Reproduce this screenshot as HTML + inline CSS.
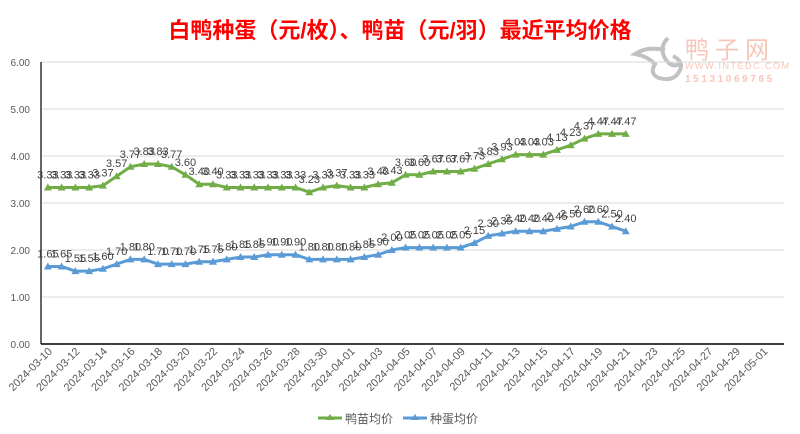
<!DOCTYPE html>
<html><head><meta charset="utf-8"><style>
body{margin:0;background:#fff;width:800px;height:434px;overflow:hidden;font-family:"Liberation Sans","Noto Sans CJK SC",sans-serif}
svg{display:block}
</style></head><body>
<svg id="c" width="800" height="434">
<text x="400" y="38" text-anchor="middle" font-size="22" font-weight="bold" fill="#ff0000" font-family="Liberation Sans,Noto Sans CJK SC,sans-serif">白鸭种蛋（元/枚）、鸭苗（元/羽）最近平均价格</text>
<g opacity="0.6">
<path d="M668 38 q-10 10 -2 22 q6 8 14 4 M665 50 q-18 -4 -30 4 q12 2 20 10 q-6 10 4 14 q14 4 20 -6 q6 -10 -6 -16" stroke="#999" stroke-width="4" fill="none"/>
<text x="685" y="58" font-size="24" fill="#f4a08a" letter-spacing="6">鸭子网</text>
<text x="685" y="69" font-size="9" fill="#f4a08a" letter-spacing="1.5">WWW.INTEDC.COM</text>
<text x="685" y="82" font-size="10" fill="#f4a08a" font-weight="bold" letter-spacing="2.6">15131069765</text>
</g>
<g id="grid"></g><g id="marks"></g>
<g>
<line x1="318" y1="418" x2="342" y2="418" stroke="#70ad47" stroke-width="3"/><path d="M330 414 l4 6 h-8z" fill="#70ad47"/>
<text x="345" y="423" font-size="12" fill="#595959">鸭苗均价</text>
<line x1="403" y1="418" x2="427" y2="418" stroke="#5b9bd5" stroke-width="3"/><path d="M415 414 l4 6 h-8z" fill="#5b9bd5"/>
<text x="430" y="423" font-size="12" fill="#595959">种蛋均价</text>
</g>
</svg>
<script>
const yTicks=[0,1,2,3,4,5,6];
const duckling=[3.33,3.33,3.33,3.33,3.37,3.57,3.77,3.83,3.83,3.77,3.60,3.40,3.40,3.33,3.33,3.33,3.33,3.33,3.33,3.23,3.33,3.37,3.33,3.33,3.40,3.43,3.60,3.60,3.67,3.67,3.67,3.73,3.83,3.93,4.03,4.03,4.03,4.13,4.23,4.37,4.47,4.47,4.47];
const eggs=[1.65,1.65,1.55,1.55,1.60,1.70,1.80,1.80,1.70,1.70,1.70,1.75,1.75,1.80,1.85,1.85,1.90,1.90,1.90,1.80,1.80,1.80,1.80,1.85,1.90,2.00,2.05,2.05,2.05,2.05,2.05,2.15,2.30,2.35,2.40,2.40,2.40,2.45,2.50,2.60,2.60,2.50,2.40];
const start=new Date(Date.UTC(2024,2,10));
const categories=[];
for(let i=0;i<54;i++){const d=new Date(start.getTime()+i*86400000);categories.push(d.toISOString().slice(0,10));}
const L=41,R=784,T=62,B=344;
const step=(R-L)/categories.length;
const X=i=>L+step*(i+0.5);
const Y=v=>B-(v/6)*(B-T);
const NS="http://www.w3.org/2000/svg";
const g=document.getElementById('grid'),m=document.getElementById('marks');
function el(t,a,p){const e=document.createElementNS(NS,t);for(const k in a)e.setAttribute(k,a[k]);p.appendChild(e);return e;}
yTicks.forEach(v=>{
 const l=el('line',{x1:L,x2:R,y1:Y(v),y2:Y(v),stroke:'#d9d9d9'},g);
 
 
 const t=el('text',{x:30,y:Y(v)+4,'text-anchor':'end','font-size':10,fill:'#595959'},g);
 t.textContent=v.toFixed(2);
 
 
});
const ax=el('line',{x1:L,x2:L,y1:T,y2:B,stroke:'#333','stroke-width':1.5},g);


const bx=el('line',{x1:L,x2:R,y1:B,y2:B,stroke:'#000','stroke-width':1.5},g);


categories.forEach((c,i)=>{
 if(i%2)return;
 const x=X(i)+5,y=B+8;
 const t=el('text',{x:x,y:y,'text-anchor':'end','font-size':11,fill:'#595959',transform:`rotate(-45 ${x} ${y})`},g);
 t.textContent=c;
 
 
});
function series(data,color,name){
 const p=el('polyline',{points:data.map((v,i)=>X(i)+','+Y(v)).join(' '),fill:'none',stroke:color,'stroke-width':3,'stroke-linejoin':'round'},m);
 
 
 data.forEach((v,i)=>{
  const x=X(i),y=Y(v);
  const mk=el('path',{d:`M${x} ${y-4}l4 7h-8z`,fill:color},m);
  
  
  const t=el('text',{x:x,y:y-9,'text-anchor':'middle','font-size':11,fill:'#404040'},m);
  t.textContent=v.toFixed(2);
  
  
 });
}
series(duckling,'#70ad47','duckling');
series(eggs,'#5b9bd5','egg');
</script>
</body></html>
